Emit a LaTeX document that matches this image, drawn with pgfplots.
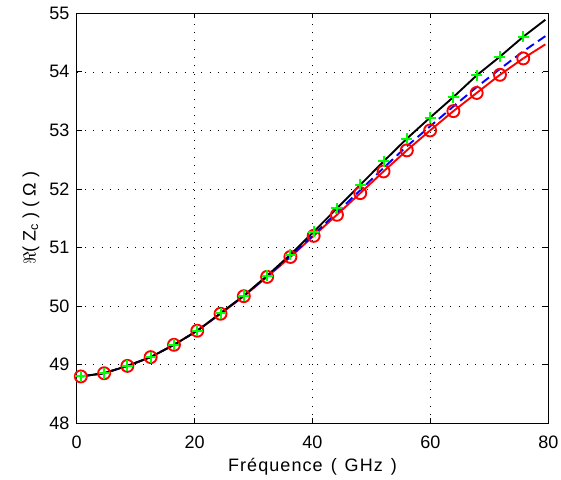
\documentclass[border=0pt]{standalone}
\usepackage{fontspec}
\setmainfont{Liberation Sans}
\newfontfamily\lsfont[LetterSpace=6]{Liberation Sans}
\usepackage{pgfplots}
\pgfplotsset{compat=1.18}
\definecolor{mgreen}{rgb}{0,1,0}
\begin{document}
\fontsize{18}{21}\selectfont
\begin{tikzpicture}
\begin{axis}[
  scale only axis, width=471.6pt, height=410pt, at={(0,0)}, anchor=south west,
  xmin=0, xmax=80, ymin=48, ymax=55,
  xtick={0,20,40,60,80}, ytick={48,49,50,51,52,53,54,55},
  tick align=inside, major tick length=5pt,
  grid=major, grid style={black, line width=0.6pt, dash pattern=on 1pt off 7.3pt},
  axis line style={line width=0.8pt},
  tick style={black, line width=0.8pt},
  /pgf/number format/assume math mode=true,
  ticklabel style={font=\fontsize{18}{21}\selectfont},
  xticklabel style={yshift=-6pt},
  yticklabel style={xshift=-1pt},
  xlabel={{\lsfont Fréquence}\hspace{3pt} (\hspace{3pt} {\lsfont GHz}\hspace{3pt} )},
  ylabel={$\Re$( Z\textsubscript{c} ) ( Ω )},
  label style={font=\fontsize{18}{21}\selectfont},
  xlabel style={yshift=2pt},
  ylabel style={yshift=-2pt},
]
% red line with circles
\addplot[red, line width=1.9pt, mark=o, mark size=6pt, mark options={solid, line width=1.9pt}] coordinates {
(0.7,48.80) (4.65,48.855) (8.6,48.98) (12.55,49.13) (16.5,49.34) (20.45,49.58)
(24.4,49.87) (28.35,50.17) (32.3,50.50) (36.25,50.84) (40.2,51.20) (44.15,51.56)
(48.1,51.93) (52.05,52.30) (56.0,52.66) (59.95,53.00) (63.9,53.33) (67.85,53.64)
(71.8,53.95) (75.75,54.23)};
\addplot[red, line width=1.9pt, forget plot] coordinates {(75.75,54.23) (79.5,54.47)};
% blue dashed
\addplot[blue, line width=1.9pt, dash pattern=on 9pt off 5pt] coordinates {
(0.7,48.80) (4.65,48.855) (8.6,48.98) (12.55,49.13) (16.5,49.34) (20.45,49.58)
(24.4,49.875) (28.35,50.175) (32.3,50.51) (36.25,50.85) (40.2,51.22) (44.15,51.60)
(48.1,51.98) (52.05,52.36) (56.0,52.73) (59.95,53.07) (63.9,53.41) (67.85,53.74)
(71.8,54.05) (75.75,54.35) (79.5,54.61)};
% black
\addplot[black, line width=1.9pt] coordinates {
(0.7,48.80) (4.65,48.855) (8.6,48.98) (12.55,49.13) (16.5,49.34) (20.45,49.58)
(24.4,49.88) (28.35,50.18) (32.3,50.52) (36.25,50.88) (40.2,51.27) (44.15,51.67)
(48.1,52.07) (52.05,52.47) (56.0,52.86) (59.95,53.22) (63.9,53.57) (67.85,53.94)
(71.8,54.26) (75.75,54.60) (79.5,54.89)};
% green plus marks
\addplot[mgreen, only marks, mark=+, mark size=5.5pt, mark options={line width=2pt}] coordinates {
(0.7,48.80) (4.65,48.855) (8.6,48.98) (12.55,49.13) (16.5,49.34) (20.45,49.58)
(24.4,49.88) (28.35,50.18) (32.3,50.52) (36.25,50.88) (40.2,51.27) (44.15,51.67)
(48.1,52.07) (52.05,52.47) (56.0,52.86) (59.95,53.22) (63.9,53.57) (67.85,53.94)
(71.8,54.26) (75.75,54.60)};
\end{axis}
\pgfresetboundingbox
\path (-76.7pt,-55.7pt) rectangle (484.3pt,423.3pt);
\end{tikzpicture}
\end{document}
